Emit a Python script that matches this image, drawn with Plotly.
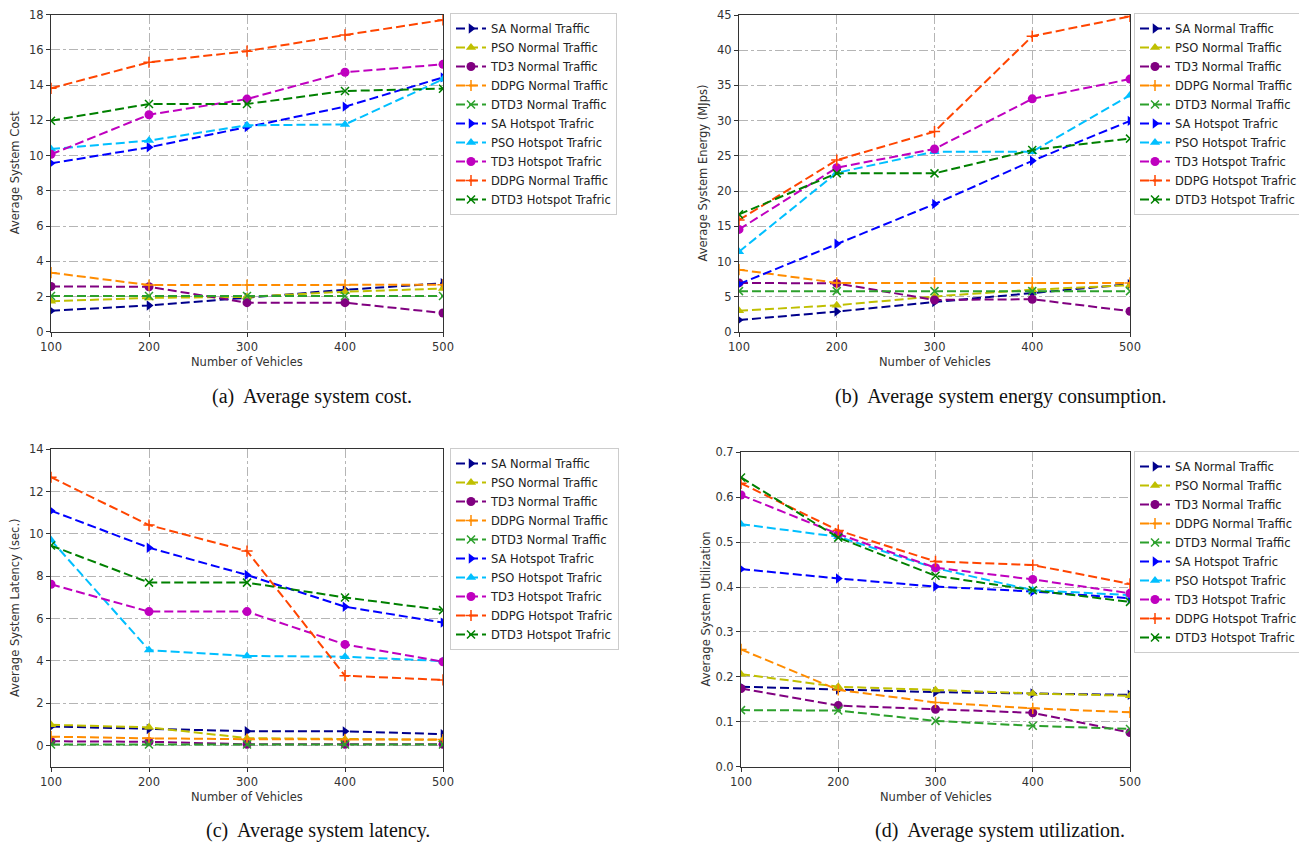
import plotly.graph_objects as go

# ---------------- data ----------------
vehicles = [100, 200, 300, 400, 500]

labels_a = ["SA Normal Traffic", "PSO Normal Traffic", "TD3 Normal Traffic",
            "DDPG Normal Traffic", "DTD3 Normal Traffic", "SA Hotspot Trafric",
            "PSO Hotspot Trafric", "TD3 Hotspot Trafric", "DDPG Normal Traffic",
            "DTD3 Hotspot Trafric"]
labels_bcd = ["SA Normal Traffic", "PSO Normal Traffic", "TD3 Normal Traffic",
              "DDPG Normal Traffic", "DTD3 Normal Traffic", "SA Hotspot Trafric",
              "PSO Hotspot Trafric", "TD3 Hotspot Trafric", "DDPG Hotspot Trafric",
              "DTD3 Hotspot Trafric"]

# (a) Average system cost
cost_sa_normal = [1.19, 1.49, 1.93, 2.38, 2.75]
cost_pso_normal = [1.73, 1.92, 1.98, 2.27, 2.45]
cost_td3_normal = [2.57, 2.55, 1.65, 1.65, 1.06]
cost_ddpg_normal = [3.35, 2.65, 2.65, 2.65, 2.67]
cost_dtd3_normal = [2.03, 2.03, 2.03, 2.03, 2.03]
cost_sa_hot = [9.56, 10.47, 11.62, 12.78, 14.44]
cost_pso_hot = [10.37, 10.85, 11.72, 11.77, 14.33]
cost_td3_hot = [10.07, 12.32, 13.21, 14.73, 15.18]
cost_ddpg_hot = [13.82, 15.3, 15.93, 16.85, 17.7]
cost_dtd3_hot = [11.98, 12.93, 12.93, 13.67, 13.8]

# (b) Average system energy
energy_sa_normal = [1.7, 2.9, 4.25, 5.55, 6.8]
energy_pso_normal = [3.0, 3.8, 5.05, 6.0, 6.65]
energy_td3_normal = [6.97, 6.9, 4.55, 4.65, 2.95]
energy_ddpg_normal = [8.85, 6.97, 6.97, 6.97, 6.97]
energy_dtd3_normal = [5.8, 5.8, 5.8, 5.8, 5.8]
energy_sa_hot = [6.8, 12.52, 18.16, 24.3, 29.97]
energy_pso_hot = [11.4, 22.6, 25.6, 25.6, 33.6]
energy_td3_hot = [14.56, 23.33, 25.98, 33.1, 35.9]
energy_ddpg_hot = [15.9, 24.4, 28.45, 42.0, 44.8]
energy_dtd3_hot = [16.7, 22.52, 22.52, 25.84, 27.45]

# (c) Average system latency
lat_sa_normal = [0.9, 0.78, 0.68, 0.67, 0.54]
lat_pso_normal = [0.98, 0.86, 0.35, 0.3, 0.27]
lat_td3_normal = [0.2, 0.18, 0.06, 0.06, 0.06]
lat_ddpg_normal = [0.42, 0.34, 0.3, 0.29, 0.28]
lat_dtd3_normal = [0.05, 0.05, 0.05, 0.05, 0.05]
lat_sa_hot = [11.1, 9.35, 8.06, 6.56, 5.81]
lat_pso_hot = [9.71, 4.51, 4.23, 4.2, 3.99]
lat_td3_hot = [7.62, 6.33, 6.33, 4.78, 3.96]
lat_ddpg_hot = [12.68, 10.42, 9.19, 3.3, 3.1]
lat_dtd3_hot = [9.45, 7.7, 7.7, 7.0, 6.4]

# (d) Average system utilization
util_sa_normal = [0.178, 0.172, 0.166, 0.163, 0.16]
util_pso_normal = [0.206, 0.178, 0.171, 0.163, 0.158]
util_td3_normal = [0.174, 0.136, 0.128, 0.12, 0.076]
util_ddpg_normal = [0.261, 0.171, 0.143, 0.13, 0.121]
util_dtd3_normal = [0.126, 0.125, 0.102, 0.091, 0.084]
util_sa_hot = [0.44, 0.419, 0.401, 0.39, 0.375]
util_pso_hot = [0.54, 0.512, 0.442, 0.393, 0.382]
util_td3_hot = [0.605, 0.518, 0.443, 0.417, 0.386]
util_ddpg_hot = [0.631, 0.526, 0.457, 0.449, 0.407]
util_dtd3_hot = [0.644, 0.51, 0.425, 0.393, 0.367]

y_titles = ["Average System Cost", "Average System Energy (MJps)",
            "Average System Latency (sec.)", "Average System Utilization"]
captions = ["(a)\u00a0 Average system cost.", "(b)\u00a0 Average system energy consumption.",
            "(c)\u00a0 Average system latency.", "(d)\u00a0 Average system utilization."]

# ---------------- styles ----------------
colors = ["#00008B", "#BFBF00", "#800080", "#FF8C00", "#2CA02C",
          "#0000FF", "#00BFFF", "#BF00BF", "#FF4500", "#008000"]
symbols = ["triangle-right", "triangle-up", "circle", "cross-thin", "x-thin"] * 2

panels = [
    [cost_sa_normal, cost_pso_normal, cost_td3_normal, cost_ddpg_normal, cost_dtd3_normal,
     cost_sa_hot, cost_pso_hot, cost_td3_hot, cost_ddpg_hot, cost_dtd3_hot],
    [energy_sa_normal, energy_pso_normal, energy_td3_normal, energy_ddpg_normal, energy_dtd3_normal,
     energy_sa_hot, energy_pso_hot, energy_td3_hot, energy_ddpg_hot, energy_dtd3_hot],
    [lat_sa_normal, lat_pso_normal, lat_td3_normal, lat_ddpg_normal, lat_dtd3_normal,
     lat_sa_hot, lat_pso_hot, lat_td3_hot, lat_ddpg_hot, lat_dtd3_hot],
    [util_sa_normal, util_pso_normal, util_td3_normal, util_ddpg_normal, util_dtd3_normal,
     util_sa_hot, util_pso_hot, util_td3_hot, util_ddpg_hot, util_dtd3_hot],
]
panel_labels = [labels_a, labels_bcd, labels_bcd, labels_bcd]

W, H = 1299, 842
def px(x):
    return x / W
def py(y):
    return 1 - y / H

# plot areas in pixels: (left, right, top, bottom)
areas = [(51, 443, 14.7, 331.7), (739, 1130, 15, 332),
         (51, 443, 449.3, 766.7), (741, 1130, 452.3, 766.7)]
yranges = [[0, 18], [0, 45], [-1, 14], [0, 0.7]]
ydticks = [2, 5, 2, 0.1]
legend_pos = [(450, 13), (1134, 13), (450, 448), (1134, 451)]
caption_pos = [(312, 396), (1000, 396), (318, 830), (1000, 830)]

fig = go.Figure()
font_family = "DejaVu Sans"

annotations = []
layout = dict(
    template="none",
    width=W, height=H, margin=dict(l=0, r=0, t=0, b=0, autoexpand=False),
    paper_bgcolor="white", plot_bgcolor="white",
    font=dict(family=font_family, size=11, color="#222"),
)

for i, (series, labs) in enumerate(zip(panels, panel_labels)):
    axn = "" if i == 0 else str(i + 1)
    lg = "legend" if i == 0 else f"legend{i + 1}"
    for j, ys in enumerate(series):
        fig.add_trace(go.Scatter(
            x=vehicles, y=ys, mode="lines+markers", name=labs[j],
            xaxis="x" + axn, yaxis="y" + axn, legend=lg,
            line=dict(color=colors[j], width=2, dash="9px,4px"),
            marker=dict(symbol=symbols[j], size=9 if j % 5 < 3 else 8,
                        color=colors[j],
                        line=dict(color=colors[j], width=1.5 if j % 5 >= 3 else 0)),
        ))
    l, r, t, b = areas[i]
    tickvals = []
    v = yranges[i][0] if i != 2 else 0
    while v <= yranges[i][1] + 1e-9:
        tickvals.append(round(v, 3))
        v += ydticks[i]
    common = dict(showline=True, mirror=True, linecolor="#333", linewidth=1,
                  ticks="outside", ticklen=4, tickcolor="#333", automargin=False,
                  showgrid=True, gridcolor="#b5b5b5", griddash="dashdot", gridwidth=1,
                  zeroline=False, tickfont=dict(size=11.5, color="#333"))
    layout["xaxis" + axn] = dict(domain=[px(l), px(r)], range=[100, 500],
                                 tickvals=vehicles, anchor="y" + axn, **common)
    layout["yaxis" + axn] = dict(domain=[py(b), py(t)], range=yranges[i],
                                 tickvals=tickvals,
                                 tickformat=".1f" if i == 3 else "d",
                                 anchor="x" + axn, **common)
    lx, ly = legend_pos[i]
    layout[lg] = dict(x=px(lx), y=py(ly), xanchor="left", yanchor="top",
                      bgcolor="rgba(255,255,255,0.9)", bordercolor="#cccccc",
                      borderwidth=1, font=dict(size=11.5, color="#222"),
                      itemwidth=30, tracegroupgap=0)
    # axis titles
    annotations.append(dict(text="Number of Vehicles", x=px((l + r) / 2), y=py(b + 30),
                            xref="paper", yref="paper", showarrow=False,
                            font=dict(size=11.5, color="#333"), xanchor="center", yanchor="middle"))
    annotations.append(dict(text=y_titles[i], x=px(l - 36), y=py((t + b) / 2),
                            xref="paper", yref="paper", showarrow=False, textangle=-90,
                            font=dict(size=11.5, color="#333"), xanchor="center", yanchor="middle"))
    cx, cy = caption_pos[i]
    annotations.append(dict(text=captions[i], x=px(cx), y=py(cy), xref="paper", yref="paper",
                            showarrow=False, font=dict(family="Liberation Serif", size=20, color="#111"),
                            xanchor="center", yanchor="middle"))

layout["annotations"] = annotations
fig.update_layout(**layout)
fig.write_html("out.html", config={"displayModeBar": False},
               post_script="document.body.style.margin='0';document.body.style.overflow='hidden';")
